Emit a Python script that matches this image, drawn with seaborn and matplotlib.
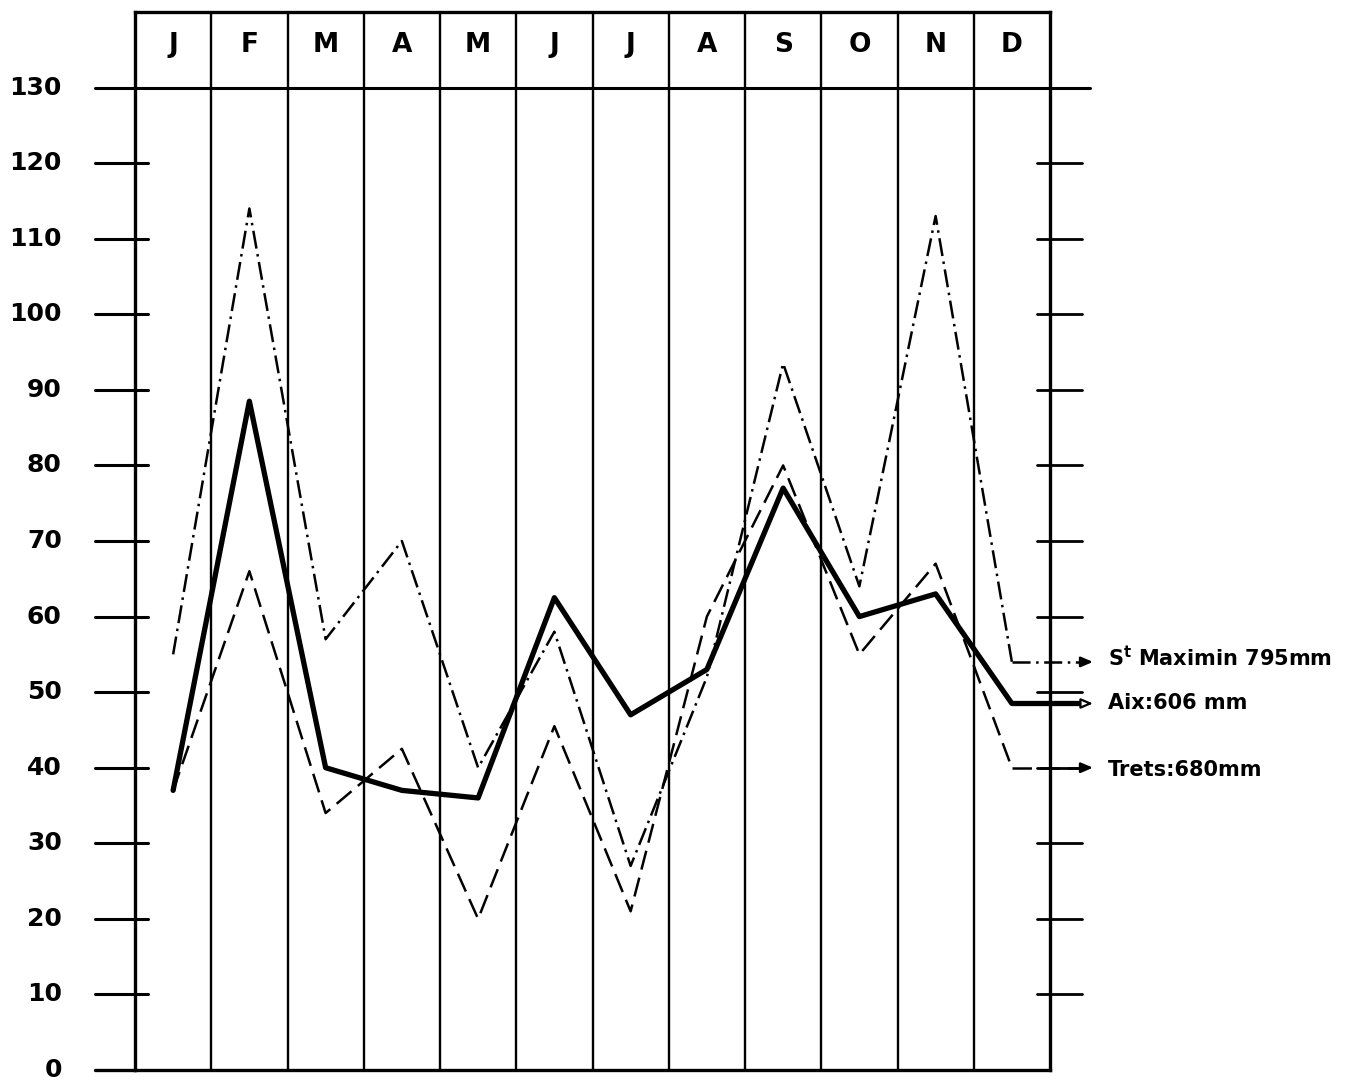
import matplotlib
matplotlib.use("Agg")
import matplotlib.pyplot as plt
import matplotlib.transforms as mtransforms
import seaborn as sns
import pandas as pd
import numpy as np

# ---- data ----
months = ["J", "F", "M", "A", "M", "J", "J", "A", "S", "O", "N", "D"]
st_maximin = [55, 114, 57, 70, 40, 58, 27, 52, 93.5, 64, 113, 54]
aix = [37, 88.5, 40, 37, 36, 62.5, 47, 53, 77, 60, 63, 48.5]
trets = [37, 66, 34, 42.5, 20, 45.5, 21, 60, 80, 55, 67, 40]
labels = {"stmax": r"S$^{t}$ Maximin 795mm",
          "aix": "Aix:606 mm",
          "trets": "Trets:680mm"}
yticks = list(range(0, 131, 10))

sns.set_style("white")
plt.rcParams["font.family"] = ["DejaVu Sans"]
plt.rcParams["lines.scale_dashes"] = False
plt.rcParams["mathtext.default"] = "bf"

W, H = 1357, 1083
fig = plt.figure(figsize=(W / 100, H / 100), dpi=100)
ax = fig.add_axes([135 / W, 13 / H, 915 / W, 1058 / H])

pos = np.arange(12) + 0.5
df = pd.DataFrame({"x": np.tile(pos, 3),
                   "v": st_maximin + aix + trets,
                   "s": ["stmax"] * 12 + ["aix"] * 12 + ["trets"] * 12})

dashdot = (13, 4, 1.8, 4)
dashed = (14, 6)
styles = {"stmax": dict(lw=1.8, dashes=dashdot),
          "aix": dict(lw=3.8, dashes=(None, None)),
          "trets": dict(lw=1.8, dashes=dashed)}

for key in ["stmax", "trets", "aix"]:
    sub = df[df["s"] == key]
    st = styles[key]
    line_kw = {} if key == "aix" else {"dashes": st["dashes"]}
    sns.lineplot(data=sub, x="x", y="v", ax=ax, color="black",
                 linewidth=st["lw"], legend=False, estimator=None,
                 sort=False, **line_kw)

ax.set_xlim(0, 12)
ax.set_ylim(0, 140)
ax.set_xticks([])
ax.set_yticks([])
ax.set_xlabel("")
ax.set_ylabel("")
for sp in ax.spines.values():
    sp.set_color("black")
    sp.set_linewidth(2.4)

# month column lines
for i in range(1, 12):
    ax.axvline(i, color="black", lw=1.7, zorder=1)

# header line at 130
ax.axhline(130, xmin=-0.0437, xmax=1.0437, color="black", lw=2.2, clip_on=False)
ax.axhline(0, xmin=-0.0437, xmax=0, color="black", lw=2.4, clip_on=False)

trans = mtransforms.blended_transform_factory(ax.transAxes, ax.transData)
for v in yticks:
    if 0 < v < 130:
        ax.plot([-0.0437, 0.0142], [v, v], color="black", lw=2.2,
                transform=trans, clip_on=False)
        ax.plot([0.986, 1.035], [v, v], color="black", lw=2.0,
                transform=trans, clip_on=False)
    ax.text(-0.080, v, str(v), transform=trans, ha="right", va="center",
            fontsize=18, fontweight="bold", family="DejaVu Sans",
            color="black")

# month labels
for i, m in enumerate(months):
    ax.text(pos[i], 135.6, m, ha="center", va="center", fontsize=19,
            fontweight="bold", family="DejaVu Sans", color="black")

# end arrows and station labels
end_x = 12.46
label_x = 12.76
ends = [("stmax", st_maximin[-1], 54.6), ("aix", aix[-1], 48.5),
        ("trets", trets[-1], 39.7)]
for key, v, ty in ends:
    st = styles[key]
    if key == "aix":
        ax.plot([pos[-1], end_x], [v, v], color="black", lw=st["lw"],
                clip_on=False, solid_capstyle="butt")
        ax.annotate("", xy=(end_x + 0.14, v), xytext=(end_x - 0.02, v),
                    arrowprops=dict(arrowstyle="-|>,head_length=0.7,head_width=0.3",
                                    color="black", lw=1.6, fc="white"),
                    annotation_clip=False)
    else:
        ax.plot([pos[-1], end_x], [v, v], color="black", lw=st["lw"],
                dashes=st["dashes"], clip_on=False)
        ax.annotate("", xy=(end_x + 0.14, v), xytext=(end_x - 0.02, v),
                    arrowprops=dict(arrowstyle="-|>,head_length=0.7,head_width=0.3",
                                    color="black", lw=1.8),
                    annotation_clip=False)
    ax.text(label_x, ty, labels[key], ha="left", va="center", fontsize=15,
            fontweight="bold", family="DejaVu Sans",
            color="black", clip_on=False)

fig.savefig("out.png", dpi=100, facecolor="white")
